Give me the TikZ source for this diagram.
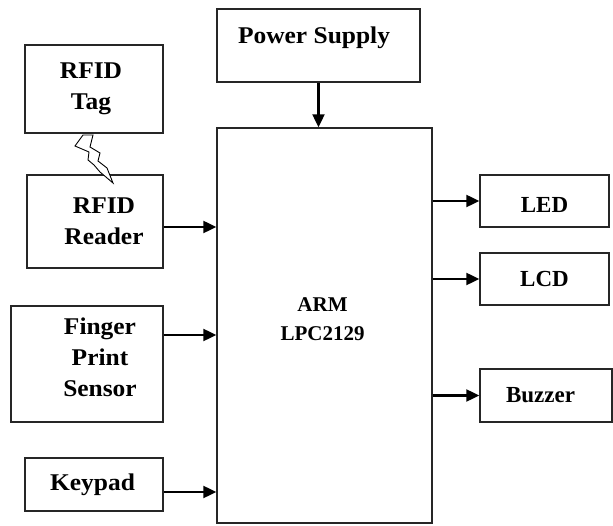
\documentclass[tikz,border=0pt]{standalone}
\usepackage{fontspec}
\setmainfont{Liberation Serif}
\newfontfamily\widefont{Liberation Serif}[FakeStretch=1.06]
\usepackage{tikz}
\usetikzlibrary{arrows.meta, positioning, calc}

\begin{document}
\begin{tikzpicture}[x=1pt, y=-1pt,
	blk/.style={rectangle, draw=black!85, line width=1.4pt, inner sep=0pt},
	lbl/.style={align=center, font=\widefont\bfseries\fontsize{24}{31}\selectfont},
	rlbl/.style={align=center, font=\bfseries\fontsize{23}{30}\selectfont},
	arr/.style={line width=2.2pt, -{Triangle[length=13pt, width=12pt]}}]
	\useasboundingbox (0,0) rectangle (613,526);
	\node[blk, minimum width=138pt, minimum height=88pt] (tag) at (94,89) {};
	\node[blk, minimum width=136pt, minimum height=93pt] (reader) at (95,221.5) {};
	\node[blk, minimum width=152pt, minimum height=116pt] (finger) at (87,364) {};
	\node[blk, minimum width=138pt, minimum height=53pt] (keypad) at (94,484.5) {};
	\node[blk, minimum width=203pt, minimum height=73pt] (power) at (318.5,45.5) {};
	\node[blk, minimum width=215pt, minimum height=395pt] (arm) at (324.5,325.5) {};
	\node[blk, minimum width=129pt, minimum height=52pt] (led) at (544.5,201) {};
	\node[blk, minimum width=129pt, minimum height=52pt] (lcd) at (544.5,279) {};
	\node[blk, minimum width=132pt, minimum height=53pt] (buzzer) at (546,395.5) {};
	\node[lbl, xshift=-3pt] (tagtxt) at (tag.center) {RFID\\Tag};
	\node[lbl, xshift=9pt] (readertxt) at (reader.center) {RFID\\Reader};
	\node[lbl, xshift=13pt, yshift=7pt] (fingertxt) at (finger.center) {Finger\\Print\\Sensor};
	\node[lbl, xshift=-1.5pt] (keypadtxt) at (keypad.center) {Keypad};
	\node[lbl, xshift=-4.5pt, yshift=8pt] (powertxt) at (power.center) {Power Supply};
	\node[rlbl, font=\bfseries\fontsize{21}{29}\selectfont, xshift=-2pt, yshift=6pt] (armtxt) at (arm.center) {ARM\\LPC2129};
	\node[rlbl, yshift=-4pt] (ledtxt) at (led.center) {LED};
	\node[rlbl] (lcdtxt) at (lcd.center) {LCD};
	\node[rlbl, xshift=-5.5pt] (buzzertxt) at (buzzer.center) {Buzzer};
	\draw[line width=0.9pt, fill=white] (83,135) -- (93,135) -- (90,147) -- (100,153) -- (98,161)
		-- (107,168) -- (113,183) -- (100,172) -- (94,165) -- (88,160) -- (89,152) -- (75,146) -- cycle;
	\draw[arr] (power.south) -- (power.south |- arm.north);
	\draw[arr] ([yshift=-5.5pt]reader.east) -- ([yshift=-5.5pt]reader.east -| arm.west);
	\draw[arr] ([yshift=29pt]finger.east) -- ([yshift=29pt]finger.east -| arm.west);
	\draw[arr] ([yshift=-7.5pt]keypad.east) -- ([yshift=-7.5pt]keypad.east -| arm.west);
	\draw[arr] (arm.east |- led.west) -- (led.west);
	\draw[arr] (arm.east |- lcd.west) -- (lcd.west);
	\draw[arr] (arm.east |- buzzer.west) -- (buzzer.west);
\end{tikzpicture}
\end{document}
